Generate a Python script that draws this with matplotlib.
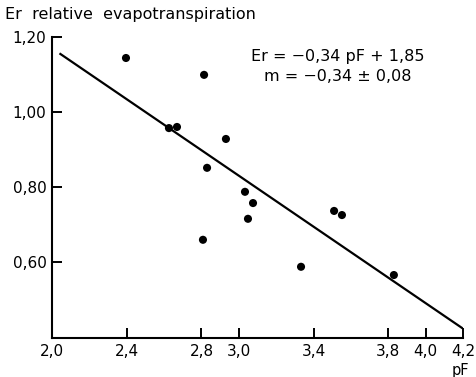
import matplotlib
matplotlib.use("Agg")
import matplotlib.pyplot as plt
import numpy as np

pf = [2.396, 2.814, 2.626, 2.669, 2.931, 2.83, 3.033, 3.076, 3.049, 2.808, 3.333, 3.51, 3.552, 3.83]
er = [1.144, 1.099, 0.957, 0.96, 0.928, 0.851, 0.787, 0.757, 0.715, 0.659, 0.587, 0.736, 0.725, 0.565]
slope = -0.34
intercept = 1.85
line_x = [2.04, 4.2]
xticks = [2.0, 2.4, 2.8, 3.0, 3.4, 3.8, 4.0, 4.2]
xticklabels = ["2,0", "2,4", "2,8", "3,0", "3,4", "3,8", "4,0", "4,2"]
yticks = [0.6, 0.8, 1.0, 1.2]
yticklabels = ["0,60", "0,80", "1,00", "1,20"]

fig = plt.figure(figsize=(4.77, 3.77), dpi=100)
ax = fig.add_axes([52/477, 39/377, 411/477, 301/377])
ax.set_xlim(2.0, 4.2)
ax.set_ylim(0.397, 1.2)

lx = np.array(line_x)
ax.plot(lx, slope*lx + intercept, color="black", lw=1.6, solid_capstyle="butt")
ax.scatter(pf, er, s=34, color="black", zorder=3, edgecolors="none")

for s in ["top", "right"]:
    ax.spines[s].set_visible(False)
for s in ["left", "bottom"]:
    ax.spines[s].set_linewidth(1.5)

ax.set_xticks(xticks)
ax.set_xticklabels(xticklabels)
ax.set_yticks(yticks)
ax.set_yticklabels(yticklabels)
ax.tick_params(direction="in", length=7, width=1.4, labelsize=11, pad=4)

fig.text(5/477, 1 - 15/377, "Er  relative  evapotranspiration", fontsize=11.5, va="center", ha="left")
ax.text(0.695, 0.935, "Er = −0,34 pF + 1,85", transform=ax.transAxes, fontsize=11.5, ha="center", va="center")
ax.text(0.695, 0.868, "m = −0,34 ± 0,08", transform=ax.transAxes, fontsize=11.5, ha="center", va="center")
fig.text(460/477, 1 - 370/377, "pF", fontsize=10.5, ha="center", va="center")

fig.savefig("out.png", dpi=100)
